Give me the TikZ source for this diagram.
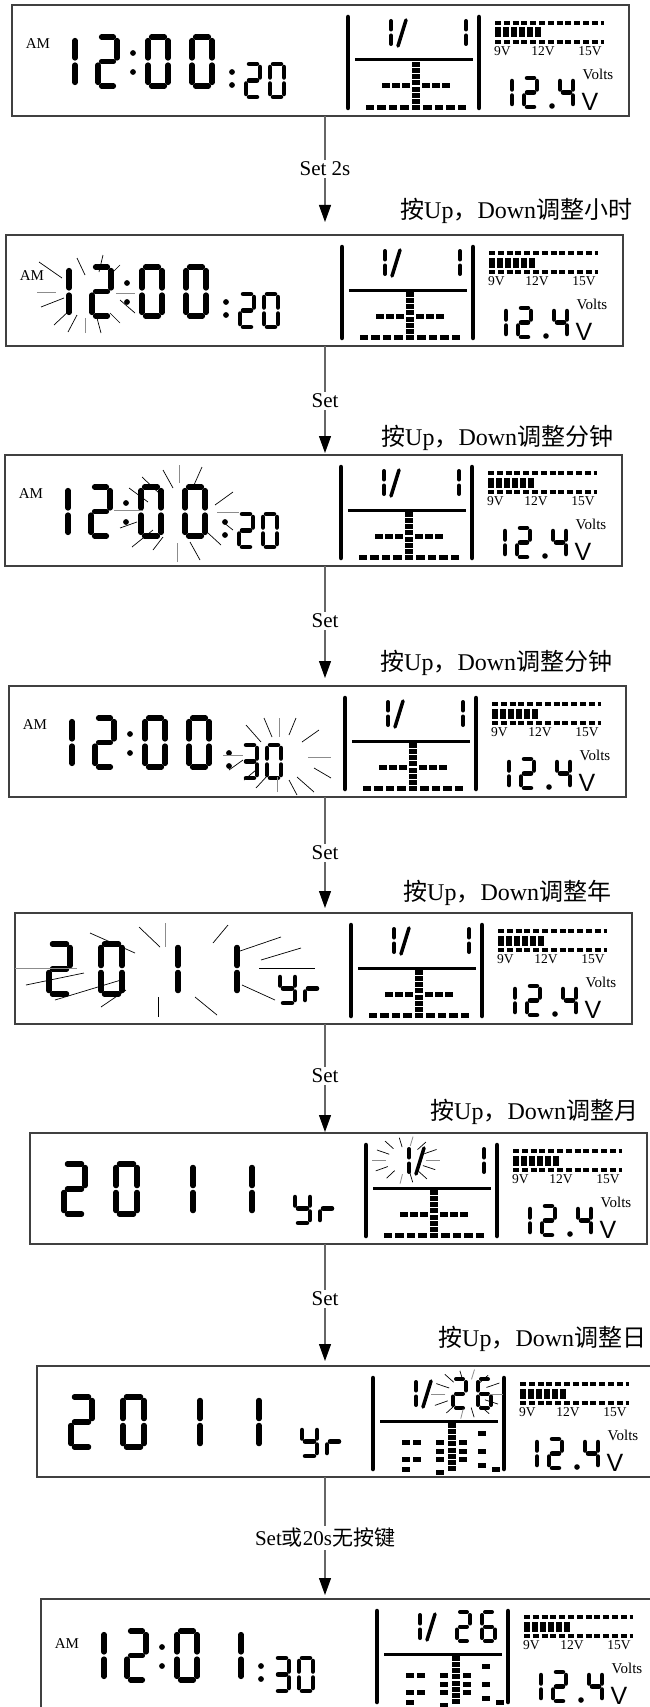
\documentclass[tikz,border=0pt]{standalone}
\usepackage{fontspec}
\setmainfont{Liberation Serif}
\newfontfamily\cjk{Noto Sans CJK SC}
\newfontfamily\sansv{Liberation Sans}
\usetikzlibrary{arrows.meta}

% seven-segment pieces (local units: 1 = 1pt, y downward)
\def\dga{\draw[seg] (\dgx+\dgp,\dgy) -- (\dgx+\dgw-\dgp,\dgy);}
\def\dgb{\draw[seg] (\dgx+\dgw,\dgy+\dgp) -- (\dgx+\dgw,\dgy+\dgh/2-\dgp);}
\def\dgc{\draw[seg] (\dgx+\dgw,\dgy+\dgh/2+\dgp) -- (\dgx+\dgw,\dgy+\dgh-\dgp);}
\def\dgd{\draw[seg] (\dgx+\dgp,\dgy+\dgh) -- (\dgx+\dgw-\dgp,\dgy+\dgh);}
\def\dge{\draw[seg] (\dgx,\dgy+\dgh/2+\dgp) -- (\dgx,\dgy+\dgh-\dgp);}
\def\dgf{\draw[seg] (\dgx,\dgy+\dgp) -- (\dgx,\dgy+\dgh/2-\dgp);}
\def\dgg{\draw[seg] (\dgx+\dgp,\dgy+\dgh/2) -- (\dgx+\dgw-\dgp,\dgy+\dgh/2);}
\newcommand\dig[7]{\def\dgx{#1}\def\dgy{#2}\def\dgw{#3}\def\dgh{#4}\def\dgp{#5}\def\dgt{#6}%
  \foreach \s in {#7}{\csname dg\s\endcsname}}
\newcommand\lsq[2]{\fill ({#1-4.2},{#2-2.5}) rectangle ({#1+4.2},{#2+2.5});}
\newcommand\rayset[1]{\foreach \rxa/\rya/\rxb/\ryb/\rc in #1 {\draw[ray\rc] (\rxa,\rya) -- (\rxb,\ryb);}}
\def\raysGen{0/0.6/1/g,25/0.55/0.95/k,52/0.6/1/k,78/0.55/0.95/k,100/0.6/1/g,127/0.55/0.95/k,153/0.6/1/k,180/0.6/1/g,206/0.55/0.95/k,232/0.6/1/k,258/0.55/0.95/k,282/0.6/1/g,308/0.55/0.95/k,334/0.6/1/k}
\newcommand\erays[4]{\foreach \ra/\ri/\ro/\rc in \raysGen {\draw[ray\rc] ({#1+\ri*#3*cos(\ra)},{#2+\ri*#4*sin(\ra)}) -- ({#1+\ro*#3*cos(\ra)},{#2+\ro*#4*sin(\ra)});}}

\newcommand\midframe{%
 \draw[line width=4.5pt,line cap=round] (336,12) -- (336,103);
 \draw[line width=4.5pt,line cap=round] (467,12) -- (467,103);
 \draw[line width=3pt] (343,55) -- (461,55);}
\newcommand\chartA{%
 \foreach \k in {0,...,7}{\lsq{404}{59.5+6.15*\k}}
 \foreach \d in {-30,-20,-10,10,20,30}{\lsq{404+\d}{81}}
 \foreach \d in {-46,-34.5,-23,-11.5,11.5,23,34.5,46}{\lsq{404+\d}{102.5}}}
\newcommand\chartB{%
 \foreach \k in {0,...,7}{\lsq{415}{59.5+6.15*\k}}
 \foreach \d/\e in {30/67,-46/76,-35/76,-12/76,11/76,-12/85,11/85,30/85,-35/93,-46/93,-12/93,11/93,30/99,-46/103,44/103,-12/106}{\lsq{415+\d}{\e}}}
\newcommand\volts[1]{%
 \draw[line width=3.5pt,dash pattern=on 6pt off 2.8pt] (483,18) -- (592,18);
 \foreach \k in {0,...,5}{\fill (483+8*\k,22.5) rectangle (489+8*\k,32.5);}
 \draw[line width=3.5pt,dash pattern=on 6pt off 2.8pt] (483,37) -- (592,37);
 \node[vsc,anchor=west] (#1v9) at (482,46) {9V};
 \node[vsc] (#1v12) at (531,46) {12V};
 \node[vsc] (#1v15) at (578,46) {15V};
 \node[vlt] (#1volts) at (586,69) {Volts};
 \dig{487}{73}{13}{29}{3}{4.5}{b,c}
 \dig{512}{73}{13}{29}{3}{4.5}{a,b,g,e,d}
 \fill (540,101) circle (2.8pt);
 \dig{548}{73}{13}{29}{3}{4.5}{f,g,b,c}
 \node[vv] (#1vunit) at (578,97) {V};}
\newcommand\clock[4]{%
 \node[amf] (#1am) at (26,#4) {AM};
 \dig{44}{32}{19}{49}{3.5}{5.2}{b,c}
 \dig{86}{32}{19}{49}{3.5}{5.2}{a,b,g,e,d}
 \fill (121,48) circle (2.9pt); \fill (121,67) circle (2.9pt);
 \dig{136}{32}{20}{49}{3.5}{5.2}{a,b,c,d,e,f}
 \dig{180}{32}{20}{49}{3.5}{5.2}{#2}
 \fill (220,67) circle (2.9pt); \fill (220,80) circle (2.9pt);
 \dig{234}{59}{14}{33}{3}{4.5}{#3}
 \dig{258}{59}{14}{33}{3}{4.5}{a,b,c,d,e,f}}
\newcommand\yeardisp{%
 \dig{34}{31}{21}{50}{3.5}{5.5}{a,b,g,e,d}
 \dig{86}{31}{21}{50}{3.5}{5.5}{a,b,c,d,e,f}
 \dig{142}{31}{21}{50}{3.5}{5.5}{b,c}
 \dig{201}{31}{21}{50}{3.5}{5.5}{b,c}
 \dig{265}{61}{15}{29}{3}{4.5}{f,b,g,c,d}
 \dig{290}{61}{15}{29}{3}{4.5}{e,g}}
\newcommand\dateA{%
 \dig{366}{13}{13}{29}{3}{4}{b,c}
 \draw[line width=3.5pt,line cap=round] (394,15) -- (386,41);
 \dig{441}{13}{13}{29}{3}{4}{b,c}}
\newcommand\dateB{%
 \dig{366}{13}{13}{29}{3}{4}{b,c}
 \draw[line width=3.5pt,line cap=round] (394,15) -- (386,41);
 \dig{416}{13}{13}{29}{3}{4}{a,b,g,e,d}
 \dig{441}{13}{13}{29}{3}{4}{a,f,g,e,d,c}}

\def\rtwo{33/27/56/43/k,71/23/79/40/k,97/20/93/37/k,114/30/104/40/k,31/57/50/57/g,110/58/129/58/g,35/72/58/63/k,48/90/64/75/k,62/97/71/80/k,79/98/79/83/g,95/98/91/83/k,114/88/104/78/k,114/65/129/78/k}
\def\rthree{137/22/156/40/k,158/15/168/33/k,174/10/174/28/g,197/12/189/30/k,228/37/210/50/k,212/57/234/57/g,124/33/143/47/k,109/55/138/55/g,115/73/132/67/k,127/92/148/75/k,148/95/158/82/k,172/107/172/88/g,195/105/185/87/k,216/90/203/78/k,228/75/218/67/k}
\def\rfour{237/39/252/56/k,255/32/263/51/k,270/32/270/51/g,287/32/280/49/k,310/44/293/56/k,299/71/322/71/g,305/82/322/92/k,288/91/305/106/k,280/94/288/109/k,268/106/268/91/g,247/102/259/89/k,235/94/247/84/k,214/69/234/69/g,220/84/234/74/k}
\def\rfive{0/55/62/55/g,150/10/150/34/g,124/14/145/34/k,213/12/198/30/k,75/20/120/40/k,11/72/69/60/k,40/87/106/67/k,86/94/111/77/k,143/84/143/104/k,180/84/202/102/k,222/39/266/24/k,246/47/286/35/k,244/55/300/55/k,227/72/260/87/k}

\begin{document}
\begin{tikzpicture}[x=1pt,y=-1pt,
 every node/.style={inner sep=0pt},
 lcd/.style={draw=black!75,line width=1.1pt,minimum width=617pt,minimum height=111pt,anchor=north west,outer sep=0pt},
 seg/.style={line width=\dgt pt,line cap=round},
 rayk/.style={line width=0.7pt,black},
 rayg/.style={line width=0.8pt,black!45},
 flow/.style={draw=black!60,line width=1.1pt,-{Triangle[width=12pt,length=17pt,color=black]}},
 lab/.style={fill=white,inner sep=2pt,font=\fontsize{21}{21}\selectfont},
 note/.style={anchor=west,font=\fontsize{24}{24}\selectfont},
 amf/.style={font=\fontsize{15}{15}\selectfont},
 vsc/.style={font=\fontsize{13.5}{13.5}\selectfont},
 vlt/.style={font=\fontsize{15}{15}\selectfont},
 vv/.style={font=\sansv\fontsize{25}{25}\selectfont}]
\useasboundingbox (0,0) rectangle (650,1707);
\clip (0,0) rectangle (650,1707);
\fill[white] (0,0) rectangle (650,1707);

% panels
\node[lcd] (p1) at (12,5) {};
\node[lcd] (p2) at (6,235) {};
\node[lcd] (p3) at (5,455) {};
\node[lcd] (p4) at (9,686) {};
\node[lcd] (p5) at (15,913) {};
\node[lcd] (p6) at (30,1133) {};
\node[lcd] (p7) at (37,1366) {};
\node[lcd] (p8) at (41,1599) {};

\begin{scope}[shift={(p1.north west)}]
 \clock{a}{a,b,c,d,e,f}{a,b,g,e,d}{39} \midframe \dateA \chartA \volts{a}
\end{scope}
\begin{scope}[shift={(p2.north west)}]
 \clock{b}{a,b,c,d,e,f}{a,b,g,e,d}{41} \midframe \dateA \chartA \volts{b}
 \rayset{\rtwo}
\end{scope}
\begin{scope}[shift={(p3.north west)}]
 \clock{c}{a,b,c,d,e,f}{a,b,g,e,d}{39} \midframe \dateA \chartA \volts{c}
 \rayset{\rthree}
\end{scope}
\begin{scope}[shift={(p4.north west)}]
 \clock{d}{a,b,c,d,e,f}{a,b,g,c,d}{39} \midframe \dateA \chartA \volts{d}
 \rayset{\rfour}
\end{scope}
\begin{scope}[shift={(p5.north west)}]
 \yeardisp \midframe \dateA \chartA \volts{e}
 \rayset{\rfive}
\end{scope}
\begin{scope}[shift={(p6.north west)}]
 \yeardisp \midframe \dateA \chartA \volts{f}
 \erays{376}{27}{34}{24}
\end{scope}
\begin{scope}[shift={(p7.north west)}]
 \yeardisp \midframe \dateB \chartB \volts{g}
 \erays{430}{28}{36}{25}
\end{scope}
\begin{scope}[shift={(p8.north west)}]
 \clock{h}{b,c}{a,b,g,c,d}{45} \midframe \dateB \chartB \volts{h}
\end{scope}

% connectors
\coordinate (ax) at (325,0);
\draw[flow] (p1.south -| ax) -- ([yshift=13pt]p2.north -| ax);
\draw[flow] (p2.south -| ax) -- ([yshift=2pt]p3.north -| ax);
\draw[flow] (p3.south -| ax) -- ([yshift=8pt]p4.north -| ax);
\draw[flow] (p4.south -| ax) -- ([yshift=5pt]p5.north -| ax);
\draw[flow] (p5.south -| ax) -- ([yshift=1pt]p6.north -| ax);
\draw[flow] (p6.south -| ax) -- ([yshift=5pt]p7.north -| ax);
\draw[flow] (p7.south -| ax) -- ([yshift=4pt]p8.north -| ax);

\node[lab] (l1) at (325,169) {Set 2s};
\node[lab] (l2) at (325,401) {Set};
\node[lab] (l3) at (325,621) {Set};
\node[lab] (l4) at (325,853) {Set};
\node[lab] (l5) at (325,1076) {Set};
\node[lab] (l6) at (325,1299) {Set};
\node[lab] (l7) at (325,1538) {Set{\cjk 或}20s{\cjk 无按键}};

\node[note] (t1) at (400,211) {{\cjk 按}Up{\cjk ，}Down{\cjk 调整小时}};
\node[note] (t2) at (381,438) {{\cjk 按}Up{\cjk ，}Down{\cjk 调整分钟}};
\node[note] (t3) at (380,663) {{\cjk 按}Up{\cjk ，}Down{\cjk 调整分钟}};
\node[note] (t4) at (403,893) {{\cjk 按}Up{\cjk ，}Down{\cjk 调整年}};
\node[note] (t5) at (430,1112) {{\cjk 按}Up{\cjk ，}Down{\cjk 调整月}};
\node[note] (t6) at (438,1339) {{\cjk 按}Up{\cjk ，}Down{\cjk 调整日}};
\end{tikzpicture}
\end{document}
